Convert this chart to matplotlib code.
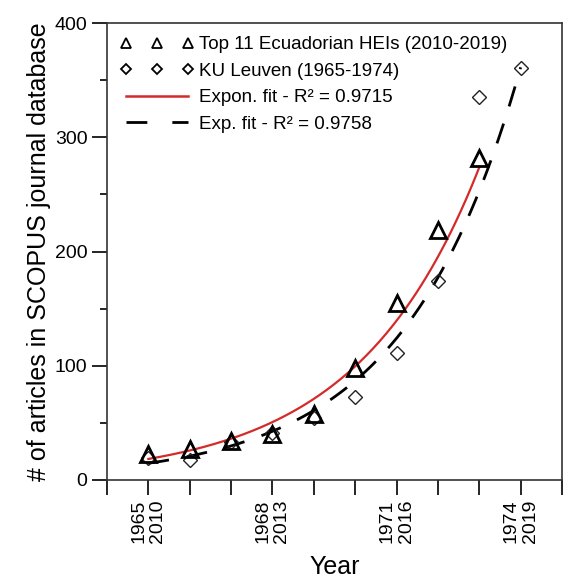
import numpy as np
import matplotlib
matplotlib.use("Agg")
import matplotlib.pyplot as plt
from matplotlib.lines import Line2D

plt.rcParams['font.family'] = ['Liberation Sans', 'DejaVu Sans']

# ---- data ----
ecu_years = [2010, 2011, 2012, 2013, 2014, 2015, 2016, 2017, 2018]
ecu_articles = [23, 27, 34, 40, 58, 98, 155, 219, 282]

ku_years = [1965, 1966, 1967, 1968, 1969, 1970, 1971, 1972, 1973, 1974]
ku_articles = [19, 17.5, 33, 41, 54, 73, 111, 174, 335, 361]
year_offset = 45  # KU Leuven years aligned with 2010-2019

tick_years = [2010, 2013, 2016, 2019]
tick_labels = ["1965\n2010", "1968\n2013", "1971\n2016", "1974\n2019"]

labels = ["Top 11 Ecuadorian HEIs (2010-2019)", "KU Leuven (1965-1974)",
          "Expon. fit - R\u00b2 = 0.9715", "Exp. fit - R\u00b2 = 0.9758"]

# ---- figure ----
fig = plt.figure(figsize=(5.63, 5.86), dpi=100)
ax = fig.add_axes([107/563, 1-480/586, (562-107)/563, (480-23)/586])

ex = np.array(ecu_years, dtype=float)
ey = np.array(ecu_articles, dtype=float)
kx = np.array(ku_years, dtype=float) + year_offset
ky = np.array(ku_articles, dtype=float)

# exponential fits (least squares on log values)
be, ae = np.polyfit(ex - ex[0], np.log(ey), 1)
bk, ak = np.polyfit(kx - kx[0], np.log(ky), 1)
xe = np.linspace(ex[0], ex[-1], 200)
xk = np.linspace(kx[0], kx[-1], 200)

ax.plot(xe, np.exp(ae + be * (xe - ex[0])), color='#d42a2a', lw=1.6, zorder=2)
ax.plot(xk, np.exp(ak + bk * (xk - kx[0])), color='black', lw=2.0,
        dashes=(7.5, 6.5), zorder=2)
ax.plot(kx, ky, ls='none', marker='D', ms=7.5, mfc='none', mec='#222222',
        mew=1.0, zorder=3)
ax.plot(ex, ey, ls='none', marker='^', ms=12, mfc='none', mec='black',
        mew=2.0, zorder=4)

ax.set_xlim(2009, 2020)
ax.set_ylim(0, 400)
ax.set_xticks(np.arange(2009, 2021))
ax.set_xticklabels(["" if y not in tick_years else tick_labels[tick_years.index(y)]
                    for y in range(2009, 2021)],
                   rotation=90, linespacing=1.15, fontsize=14)
ax.set_yticks([0, 100, 200, 300, 400])
ax.set_yticks([50, 150, 250, 350], minor=True)
ax.tick_params(axis='both', direction='out', length=11, width=1.2,
               labelsize=14, colors='black', pad=3)
ax.tick_params(axis='y', which='minor', direction='out', length=5, width=1.2)
for s in ax.spines.values():
    s.set_linewidth(1.2)
    s.set_color('#333333')

ax.set_xlabel("Year", fontsize=18, labelpad=9)
ax.set_ylabel("# of articles in SCOPUS journal database", fontsize=18, labelpad=3)

handles = [
    Line2D([], [], ls='none', marker='^', ms=6.5, mfc='none', mec='black', mew=1.3),
    Line2D([], [], ls='none', marker='D', ms=5.2, mfc='none', mec='black', mew=1.3),
    Line2D([], [], color='#d42a2a', lw=1.8),
    Line2D([], [], color='black', lw=2.0, dashes=(7.5, 9)),
]
ax.legend(handles, labels, loc='upper left', bbox_to_anchor=(0.0, 1.0),
          frameon=False, fontsize=13.5, numpoints=3, handlelength=3.9,
          handletextpad=0.3, labelspacing=0.5, borderaxespad=0.3)

fig.savefig("out.png", dpi=100)
